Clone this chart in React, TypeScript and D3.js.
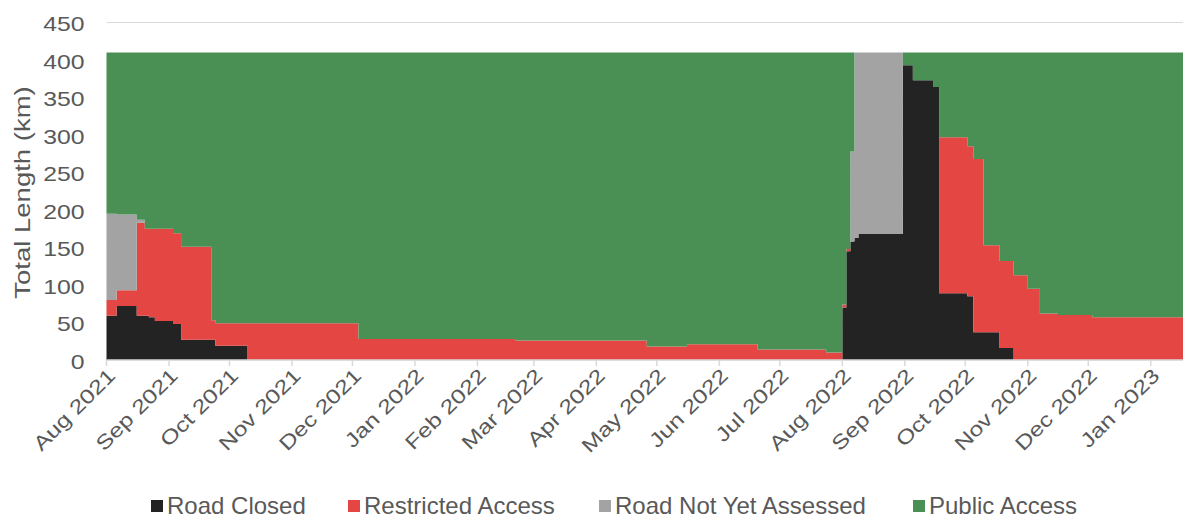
import React from 'react';
import * as d3 from 'd3';

// Change-point records (value holds until the next date)
const dates = [
  '2021-08-01', '2021-08-06', '2021-08-16', '2021-08-20', '2021-08-22', '2021-08-25',
  '2021-09-03', '2021-09-07', '2021-09-22', '2021-09-24', '2021-10-10', '2021-12-04',
  '2022-02-20', '2022-04-26', '2022-05-16', '2022-06-20', '2022-07-24', '2022-08-01',
  '2022-08-03', '2022-08-05', '2022-08-07', '2022-08-09', '2022-08-31', '2022-09-05',
  '2022-09-15', '2022-09-18', '2022-10-02', '2022-10-05', '2022-10-10', '2022-10-18',
  '2022-10-25', '2022-11-01', '2022-11-07', '2022-11-16', '2022-12-03', '2023-01-17',
];
const roadClosed = [
  59, 72, 59, 59, 57, 52,
  48, 27, 27, 19, 0, 0,
  0, 0, 0, 0, 0, 70,
  145, 158, 163, 168, 393, 373,
  364, 89, 85, 37, 37, 16,
  0, 0, 0, 0, 0, 0,
];
const restrictedAccess = [
  21, 21, 124, 116, 118, 123,
  121, 124, 26, 30, 49, 28,
  26, 18, 21, 14, 10, 4,
  3, 0, 0, 0, 0, 0,
  0, 208, 200, 231, 116, 116,
  113, 95, 62, 60, 57, 57,
];
const notYetAssessed = [
  115, 101, 4, 0, 0, 0,
  0, 0, 0, 0, 0, 0,
  0, 0, 0, 0, 0, 0,
  0, 120, 247, 242, 0, 0,
  0, 0, 0, 0, 0, 0,
  0, 0, 0, 0, 0, 0,
];
const publicAccess = [
  215, 216, 223, 235, 235, 235,
  241, 259, 357, 361, 361, 382,
  384, 392, 389, 396, 400, 336,
  262, 132, 0, 0, 17, 37,
  46, 113, 125, 142, 257, 278,
  297, 315, 348, 350, 353, 353,
];

const seriesNames = ['Road Closed', 'Restricted Access', 'Road Not Yet Assessed', 'Public Access'];
const seriesColors = ['#232323', '#e34643', '#a3a3a3', '#4a8f54'];
const yTicks = [0, 50, 100, 150, 200, 250, 300, 350, 400, 450];
const xDomain = ['2021-08-01', '2023-01-17'];
const yTitle = 'Total Length (km)';

export default function App() {
  const W = 1183;
  const H = 518;
  const left = 106.5;
  const right = 1183;
  const base = 360;
  const top = 22.5;
  const textColor = '#595959';
  const font = 'Liberation Sans, Arial, sans-serif';
  const sx = 1.24;

  const parse = d3.timeParse('%Y-%m-%d');
  const x = d3.scaleTime().domain(xDomain.map((d) => parse(d) as Date)).range([left, right]);
  const y = d3.scaleLinear().domain([0, 450]).range([base, top]);

  const keys = ['closed', 'restricted', 'notAssessed', 'public'];
  const rows = dates.map((d, i) => ({
    date: parse(d) as Date,
    closed: roadClosed[i],
    restricted: restrictedAccess[i],
    notAssessed: notYetAssessed[i],
    public: publicAccess[i],
  }));
  const stacked = d3.stack<any>().keys(keys)(rows);
  const area = d3
    .area<any>()
    .x((d) => x(d.data.date))
    .y0((d) => y(d[0]))
    .y1((d) => y(d[1]))
    .curve(d3.curveStepAfter);

  const months = d3.timeMonth.range(parse('2021-08-01') as Date, parse('2023-01-18') as Date);
  const fmt = d3.timeFormat('%b %Y');

  const legendX = [151, 348, 599, 913];

  return (
    <svg width={W} height={H} style={{ position: 'absolute', left: 0, top: 0, background: '#fff' }} fontFamily={font}>
      {yTicks.map((t) => (
        <line key={'g' + t} x1={left} x2={right} y1={y(t)} y2={y(t)} stroke="#d9d9d9" strokeWidth={1} />
      ))}
      {stacked.map((s, i) => (
        <path key={i} d={area(s) || ''} fill={seriesColors[i]} />
      ))}
      <line x1={left} x2={right} y1={base} y2={base} stroke="#d9d9d9" strokeWidth={1.5} />
      {months.map((m) => (
        <line key={'t' + +m} x1={x(m)} x2={x(m)} y1={base} y2={base + 6} stroke="#d9d9d9" strokeWidth={1.5} />
      ))}
      {yTicks.map((t) => (
        <text
          key={'yl' + t}
          transform={`translate(${left - 22},${y(t) + 1.5}) scale(${sx},1)`}
          dy="0.35em"
          textAnchor="end"
          fontSize={20}
          fill={textColor}
        >
          {t}
        </text>
      ))}
      {months.map((m) => (
        <text
          key={'xl' + +m}
          transform={`translate(${x(m) + 5},${base + 12}) rotate(-45) scale(${sx},1)`}
          textAnchor="end"
          dy="0.35em"
          fontSize={20}
          fill={textColor}
        >
          {fmt(m)}
        </text>
      ))}
      <text
        transform={`translate(30,192.5) rotate(-90) scale(1.25,1)`}
        textAnchor="middle"
        fontSize={22}
        fill={textColor}
      >
        {yTitle}
      </text>
      {seriesNames.map((n, i) => (
        <g key={'lg' + i}>
          <rect x={legendX[i]} y={500} width={12} height={12} fill={seriesColors[i]} />
          <text x={legendX[i] + 16} y={506} dy="0.35em" fontSize={24} fill={textColor}>
            {n}
          </text>
        </g>
      ))}
    </svg>
  );
}
